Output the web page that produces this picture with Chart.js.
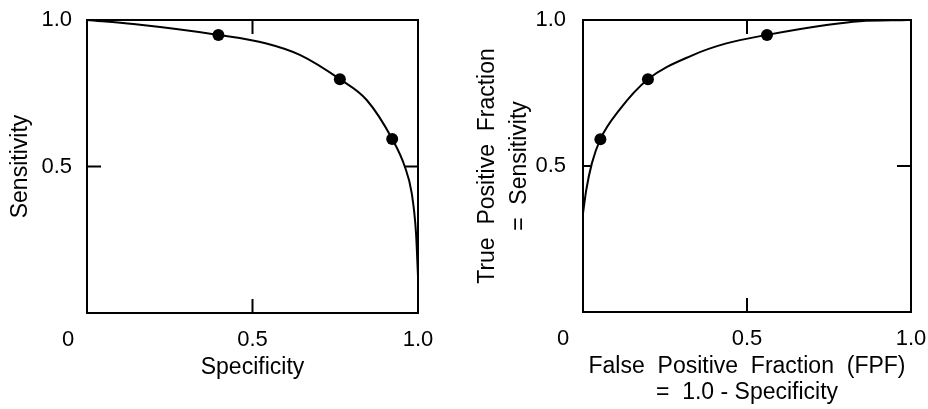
<!DOCTYPE html>
<html>
<head>
<meta charset="utf-8">
<title>Sensitivity / ROC</title>
<script src="https://cdn.jsdelivr.net/npm/chart.js@4.4.1/dist/chart.umd.min.js"></script>
<style>
  html, body { margin: 0; padding: 0; background: #fff; }
  #wrap { position: relative; width: 928px; height: 409px; overflow: hidden; }
  .panel { position: absolute; top: 0; height: 409px; }
</style>
</head>
<body>
<div id="wrap">
  <div class="panel" style="left:0;width:460px"><canvas id="SpecChart" width="460" height="409"></canvas></div>
  <div class="panel" style="left:460px;width:468px"><canvas id="RocChart" width="468" height="409"></canvas></div>
</div>
<script>
(function () {
  "use strict";

  // Colors / fonts
  const text_black  = '#000000';
  const font_family = '"Liberation Sans", Arial, Helvetica, sans-serif';

  // Tick values and labels (same on both axes)
  const tick_values = [0, 0.5, 1.0];
  const tick_labels = ['0', '0.5', '1.0'];

  // Left panel: specificity (x) vs sensitivity (y)
  const spec_curve_x  = [0, 0.14, 0.397, 0.542, 0.643, 0.764, 0.845, 0.922, 0.96, 0.981, 0.994, 1.0];
  const spec_curve_y  = [1.0, 0.986, 0.949, 0.92, 0.881, 0.798, 0.727, 0.594, 0.5, 0.409, 0.273, 0.125];
  const spec_points_x = [0.397, 0.764, 0.922];
  const spec_points_y = [0.949, 0.798, 0.594];

  // Right panel: false positive fraction (x) vs true positive fraction (y)
  const fpf_curve_x  = [0, 0.01, 0.027, 0.053, 0.111, 0.198, 0.335, 0.437, 0.561, 0.742, 0.844, 0.99];
  const tpf_curve_y  = [0.338, 0.418, 0.509, 0.592, 0.692, 0.797, 0.88, 0.92, 0.949, 0.983, 0.996, 1.0];
  const fpf_points_x = [0.053, 0.198, 0.561];
  const tpf_points_y = [0.592, 0.797, 0.949];

  function toXY(xs, ys) {
    return xs.map(function (x, i) { return { x: x, y: ys[i] }; });
  }

  // Box around the plot, short inner ticks at 0.5 and the shared "0" corner label
  const framePlugin = {
    id: 'frame',
    afterDraw: function (chart, args, opts) {
      const ctx = chart.ctx;
      const a = chart.chartArea;
      const sx = chart.scales.x;
      const sy = chart.scales.y;
      const mx = sx.getPixelForValue(tick_values[1]);
      const my = sy.getPixelForValue(tick_values[1]);
      ctx.save();
      ctx.strokeStyle = text_black;
      ctx.lineWidth = 2;
      ctx.strokeRect(a.left, a.top, a.right - a.left, a.bottom - a.top);
      ctx.beginPath();
      ctx.moveTo(mx, a.top); ctx.lineTo(mx, a.top + opts.tick);
      ctx.moveTo(mx, a.bottom); ctx.lineTo(mx, a.bottom - opts.tick);
      ctx.moveTo(a.left, my); ctx.lineTo(a.left + opts.tickLeft, my);
      ctx.moveTo(a.right, my); ctx.lineTo(a.right - opts.tick, my);
      ctx.stroke();
      // corner "0"
      ctx.fillStyle = text_black;
      ctx.font = '22px ' + font_family;
      ctx.textAlign = 'center';
      ctx.textBaseline = 'middle';
      ctx.fillText(tick_labels[0], a.left - opts.zeroShift, sx.top + 14 + 13.2);
      ctx.restore();
    }
  };

  function tickLabel(value) {
    if (value === tick_values[0]) return '';
    return tick_labels[tick_values.indexOf(value)];
  }

  function fixTicks(s) {
    s.ticks = tick_values.map(function (v) { return { value: v }; });
  }

  function makeChart(id, o) {
    const el = document.getElementById(id);
    if (el == null) return;
    return new Chart(el.getContext('2d'), {
      type: 'scatter',
      data: {
        datasets: [{
          data: toXY(o.curveX, o.curveY),
          showLine: true,
          borderColor: text_black,
          borderWidth: 2,
          pointRadius: 0,
          cubicInterpolationMode: 'monotone',
          fill: false
        }, {
          data: toXY(o.pointsX, o.pointsY),
          showLine: false,
          pointRadius: 6,
          pointBackgroundColor: text_black,
          pointBorderWidth: 0
        }]
      },
      options: {
        responsive: false,
        animation: false,
        layout: { padding: { top: 20, right: o.padRight, left: 0, bottom: 0 } },
        plugins: {
          legend: { display: false },
          tooltip: { enabled: false },
          frame: { tick: 14, tickLeft: o.tickLeft, zeroShift: o.zeroShift }
        },
        scales: {
          x: {
            type: 'linear', min: 0, max: 1,
            afterFit: function (s) {
              s.height = o.xHeight;
              s.paddingLeft = 0; s.paddingRight = 0;
            },
            afterBuildTicks: fixTicks,
            grid: { display: false, drawTicks: false },
            border: { display: false },
            ticks: { padding: 14, color: text_black, font: { family: font_family, size: 22 }, callback: tickLabel, maxRotation: 0 },
            title: {
              display: true, text: o.xTitle, color: text_black,
              font: { family: font_family, size: 23, lineHeight: 26 / 23 },
              padding: { top: 0, bottom: o.xTitlePad }
            }
          },
          y: {
            type: 'linear', min: 0, max: 1,
            afterFit: function (s) {
              s.width = o.yWidth;
              s.paddingTop = 0; s.paddingBottom = 0;
            },
            afterBuildTicks: fixTicks,
            grid: { display: false, drawTicks: false },
            border: { display: false },
            ticks: { padding: o.yTickPad, color: text_black, font: { family: font_family, size: 22 }, callback: tickLabel },
            title: {
              display: true, text: o.yTitle, color: text_black,
              font: { family: font_family, size: 23, lineHeight: o.yTitleLine / 23 },
              padding: { top: o.yTitlePad, bottom: 0 }
            }
          }
        }
      },
      plugins: [framePlugin]
    });
  }

  // LEFT: specificity chart
  makeChart('SpecChart', {
    curveX: spec_curve_x, curveY: spec_curve_y,
    pointsX: spec_points_x, pointsY: spec_points_y,
    xTitle: 'Specificity', xTitlePad: 28,
    yTitle: 'Sensitivity', yTitleLine: 26, yTitlePad: 8,
    yWidth: 87, xHeight: 96, padRight: 42, yTickPad: 15,
    tickLeft: 14, zeroShift: 19
  });

  // RIGHT: ROC chart
  makeChart('RocChart', {
    curveX: fpf_curve_x, curveY: tpf_curve_y,
    pointsX: fpf_points_x, pointsY: tpf_points_y,
    xTitle: ['False  Positive  Fraction  (FPF)', '=  1.0 - Specificity'], xTitlePad: 3,
    yTitle: ['True  Positive  Fraction', '=  Sensitivity'], yTitleLine: 32, yTitlePad: 12,
    yWidth: 123, xHeight: 97, padRight: 17, yTickPad: 17,
    tickLeft: 8, zeroShift: 20
  });

})();
</script>
</body>
</html>
